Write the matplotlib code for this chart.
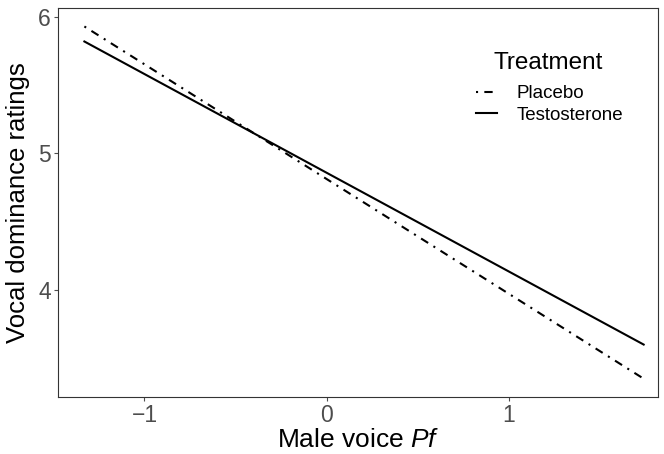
import matplotlib
matplotlib.use("Agg")
import matplotlib.pyplot as plt
from matplotlib.lines import Line2D

plt.rcParams['font.family'] = ['Liberation Sans', 'DejaVu Sans']
plt.rcParams['mathtext.fontset'] = 'custom'
plt.rcParams['mathtext.it'] = 'Liberation Sans:italic'
plt.rcParams['mathtext.rm'] = 'Liberation Sans'

x_ends = [-1.33, 1.74]
placebo = [5.93, 3.35]
testosterone = [5.82, 3.60]
xticks = [-1, 0, 1]
yticks = [4, 5, 6]
labels = ["Placebo", "Testosterone"]

W, H = 664, 454
fig = plt.figure(figsize=(6.64, 4.54), dpi=100)
ax = fig.add_axes([0.0873, 0.1256, 0.904, 0.857])

ax.plot(x_ends, placebo, color='black', lw=1.5, linestyle=(0, (1, 3, 4, 3)))
ax.plot(x_ends, testosterone, color='black', lw=1.5, linestyle='-')

ax.set_xlim(-1.475, 1.82)
ax.set_ylim(3.216, 6.066)
ax.set_xticks(xticks)
ax.set_xticklabels(["\u22121", "0", "1"])
ax.set_yticks(yticks)
ax.tick_params(axis='both', colors='#4D4D4D', labelsize=16.5, length=3, width=0.8,
               direction='out', pad=2)
for s in ax.spines.values():
    s.set_color('#333333')
    s.set_linewidth(0.8)

ax.set_xlabel("Male voice $\\mathit{Pf}$", fontsize=19, labelpad=1)
ax.set_ylabel("Vocal dominance ratings", fontsize=18.5, labelpad=6)

fig.text(548 / W, 1 - 63 / H, "Treatment", fontsize=17.5, ha='center', va='center')

handles = [Line2D([], [], color='black', lw=1.5, linestyle=(0, (1, 3, 4, 3))),
           Line2D([], [], color='black', lw=1.5)]
leg = fig.legend(handles, labels, loc='upper left',
                 bbox_to_anchor=(476 / W, 1 - 85 / H), bbox_transform=fig.transFigure,
                 frameon=False, fontsize=13.5, borderpad=0, borderaxespad=0,
                 handlelength=1.1, handletextpad=1.05, labelspacing=0.23)

fig.savefig("out.png", dpi=100)
